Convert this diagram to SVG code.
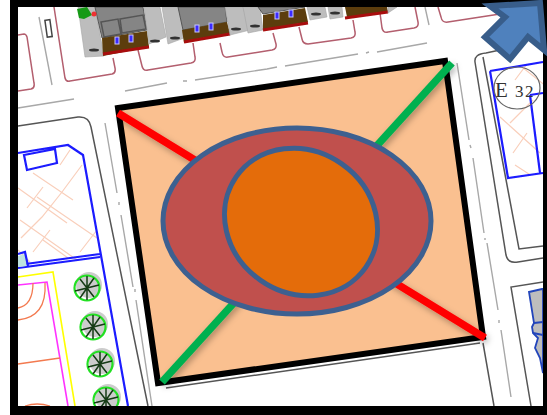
<svg xmlns="http://www.w3.org/2000/svg" width="547" height="415" viewBox="0 0 547 415">
<defs>
<style>
.m{fill:none;stroke:#b35e6e;stroke-width:1.5}
.d{fill:none;stroke:#555;stroke-width:1.5}
.g{fill:none;stroke:#a8a8a8;stroke-width:1.4}
.b{fill:none;stroke:#1a1aff;stroke-width:2.2}
.h{fill:none;stroke:#f9cfbb;stroke-width:1.2}
.o{fill:none;stroke:#f37a50;stroke-width:1.3}
.lg{fill:#bdbdbd;stroke:#a5a5a5;stroke-width:.6}
.dg{fill:#858585;stroke:#555;stroke-width:1}
.br{fill:#5c3d08}
.rd{fill:none;stroke:#a80f0f;stroke-width:3}
.w{fill:#3a2bff;stroke:#c8c8ff;stroke-width:1}
.t{fill:none;stroke:#22e022;stroke-width:2.2}
.tl{stroke:#153a15;stroke-width:1.5}
</style>
<filter id="s" x="-10%" y="-10%" width="120%" height="120%"><feDropShadow dx="2" dy="3" stdDeviation="3" flood-color="#000" flood-opacity=".3"/></filter>
<filter id="bl" x="0" y="0" width="100%" height="100%"><feGaussianBlur stdDeviation=".45"/></filter>
<clipPath id="c"><rect x="18" y="7" width="525" height="399"/></clipPath>
<clipPath id="hl"><polygon points="18,153 68,145 83,155 100,257 18,268"/></clipPath>
<clipPath id="hr"><polygon points="490,71 543,62 543,173 508,178"/></clipPath>
<g id="tree"><circle cx="2" cy="-3" r="13" fill="#ccc"/><circle r="12.5" fill="#fff" class="t"/><path class="tl" d="M-12 3 12 -3M-7 -9 7 9M7 -10 -7 10M0 -12 0 12"/></g>
</defs>
<rect width="547" height="415" fill="#fff"/>
<g id="map" clip-path="url(#c)"><g filter="url(#bl)">
<path class="m" d="M54 7 65 78Q66 82 70 81L112 74Q116 73 115 68L113 58M18 35 24 34Q26 34 27 37L34 83Q35 88 31 89L18 91M138 50 142 66Q143 71 148 70L191 63Q196 62 195 57L193 43M220 43 222 52Q223 58 228 57L272 50Q277 49 276 44L273 33M299 27 302 39Q303 44 308 44L351 38Q356 37 355 32L353 20M380 13 382 28Q383 33 388 32L414 28Q419 27 418 22L415 7M438 7 441 17Q442 23 448 22L500 14"/>
<g id="buildings">
<polygon class="lg" points="78,7 95,7 104,56 85,57"/>
<polygon class="dg" points="95,7 143,7 147,30 102,38"/>
<path class="d" d="M101 22 118 19 121 34 104 37ZM120 19 143 15 146 29 122 33Z"/>
<polygon class="br" points="102,38 147,31 149,47 103,56"/>
<path class="rd" d="M103 54 149 47"/>
<polygon fill="#159a15" points="77,9 87,7 92,15 84,19 79,18"/>
<circle cx="94" cy="14" r="2.5" fill="#e33"/>
<polygon class="lg" points="144,7 160,7 166,37 149,44"/>
<polygon class="lg" points="162,7 180,7 184,38 168,44"/>
<polygon class="dg" points="178,7 225,7 227,22 183,30"/>
<polygon class="br" points="182,30 227,22 230,33 184,43"/>
<path class="rd" d="M184 42 230 34"/>
<polygon class="lg" points="225,7 243,7 250,30 230,35"/>
<polygon class="lg" points="243,7 260,7 263,30 248,33"/>
<polygon class="br" points="263,15 305,8 308,22 263,30"/>
<path class="rd" d="M263 30 308 23"/>
<polygon class="dg" points="258,7 305,7 263,14"/>
<polygon class="lg" points="307,7 325,7 327,17 310,20"/>
<polygon class="lg" points="328,7 342,7 343,17 330,19"/>
<polygon class="br" points="345,7 387,7 388,12 347,17"/>
<path class="rd" d="M345 18 388 12"/>
<polygon class="lg" points="388,7 397,7 388,13"/>
<g fill="#333"><ellipse cx="94" cy="50" rx="5" ry="1.5"/><ellipse cx="155" cy="41" rx="5" ry="1.5"/><ellipse cx="175" cy="38" rx="5" ry="1.5"/><ellipse cx="236" cy="29" rx="5" ry="1.5"/><ellipse cx="255" cy="26" rx="5" ry="1.5"/><ellipse cx="316" cy="14" rx="5" ry="1.5"/><ellipse cx="335" cy="13" rx="5" ry="1.5"/></g>
<rect class="w" x="115" y="37" width="4" height="7"/><rect class="w" x="129" y="35" width="4" height="7"/><rect class="w" x="195" y="25" width="4" height="7"/><rect class="w" x="209" y="23" width="4" height="7"/><rect class="w" x="275" y="12" width="4" height="7"/><rect class="w" x="289" y="10" width="4" height="7"/>
</g>
<path class="g" d="M39 17 52 85M18 108 74 99M125 91 167 83M183 81 187 81M195 80 267 69 277 67M285 66 358 54M366 53 369 52M377 52 427 43M425 7 429 25M457 63 469 140M470 145 471 148M473 158 484 233M485 238 485 240M487 243 498 310M499 320 499 323M501 330 511 397M105 123 117 193M119 202 119 205M121 215 133 287M135 289 135 292M136 300 148 380 152 406"/>
<rect x="46" y="20" width="5" height="17" transform="rotate(-8 48 28)" fill="#fff" stroke="#444" stroke-width="1.5"/>
<path class="d" d="M18 126 78 117Q89 116 91 127L148 406"/>
<path class="d" d="M500 50 486 53Q474 54 475 62L506 255Q508 264 518 262L543 258M483 57 519 249 543 246M483 343 494 406M543 282 511 287 531 406M166 388 480 343"/>
<g clip-path="url(#hl)"><path class="h" d="M43 187 27 208M82 165 62 192 42 217 21 238M97 230 80 252M50 230 33 252M33 173 73 200M18 188 67 223M37 197 97 238M20 220 77 260M43 240 68 258M70 150 60 165M18 250 30 262"/></g>
<path class="b" d="M18 153 68 145 83 155 128 406M24 155 55 149 57 163 27 170ZM18 268 100 257M18 265 100 254" />
<polygon fill="#bfe3df" points="18,256 25,254 27,266 18,267"/>
<path class="b" d="M18 254 25 252 28 266"/>
<path d="M18 277 53 272 75 406" fill="none" stroke="#ff0" stroke-width="1.6"/>
<path d="M18 285 47 282 68 406" fill="none" stroke="#f3f" stroke-width="1.6"/>
<path class="o" d="M18 308Q33 305 33 283M18 320Q47 317 45 283M18 364 60 358M25 406Q37 402 50 406"/>
<use href="#tree" x="87" y="288"/><use href="#tree" x="93" y="327"/><use href="#tree" x="100" y="364"/><use href="#tree" x="106" y="400"/>
<g clip-path="url(#hr)"><path class="h" d="M500 117 540 153M510 123 533 100M513 153 527 133M522 67 547 87M515 165 535 178M530 60 515 80"/></g>
<path class="b" d="M490 71 543 62M490 71 508 178 543 173M530 95 540 173M530 95 543 93"/>
<ellipse cx="517" cy="88" rx="23" ry="21" fill="none" stroke="#666" stroke-width="1.2"/>
<path d="M529 292 542 289 543 289V373L540 358 535 348 538 338 533 333 532 327 534 323Z" fill="#bdbdbd" stroke="#2244bb" stroke-width="1.8"/>
<path d="M534 323 543 322M533 333 543 335" fill="none" stroke="#2244bb" stroke-width="1.8"/>
</g>
<text x="495" y="97" font-family="Liberation Serif, serif" font-size="21" fill="#333">E <tspan x="515" font-size="17" letter-spacing="1.5">32</tspan></text>
</g>
<g id="frame"><path d="M10 0H547V415H10ZM18 7V406H543V7Z" fill="#000" fill-rule="evenodd"/></g>
<g id="plot"><polygon points="118,108 445,61 483,337 158,383" fill="#fac090" stroke="#000" stroke-width="6" stroke-linejoin="miter"/></g>
<g id="connectors" filter="url(#s)" stroke-width="7.5" fill="none">
<line x1="118" y1="113" x2="485" y2="338" stroke="#f00"/>
<line x1="452" y1="63" x2="162" y2="382" stroke="#00b050"/>
</g>
<g id="outer-ellipse"><ellipse cx="297" cy="221" rx="134" ry="93" fill="#c0504d" stroke="#3d6090" stroke-width="5"/></g>
<g id="inner-ellipse"><ellipse cx="301" cy="222" rx="79" ry="71" transform="rotate(35 301 222)" fill="#e46c0a" stroke="#3d6090" stroke-width="5"/></g>
<g id="north-arrow"><polygon points="490,6 540,3 544,50 528,37 510,59 485,37 505,17" fill="#4f81bd" stroke="#385d8a" stroke-width="6"/></g>
</svg>
